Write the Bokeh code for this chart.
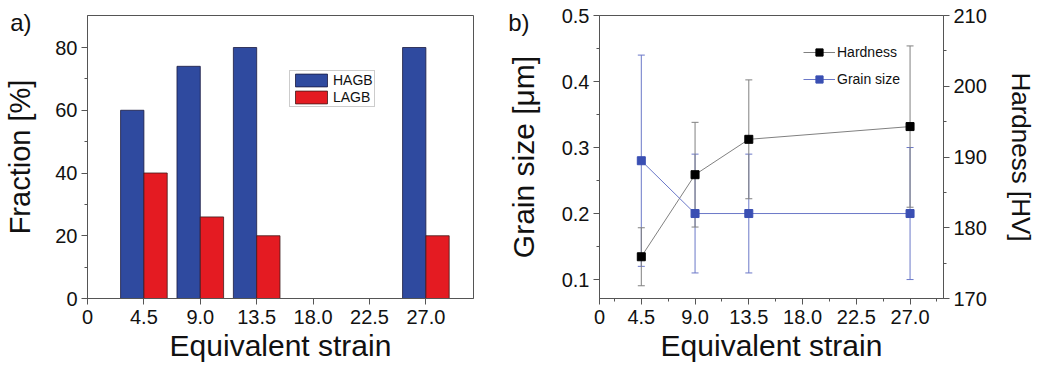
from bokeh.plotting import figure
from bokeh.models import (ColumnDataSource, FixedTicker, Range1d, LinearAxis, Legend,
                          LegendItem, Whisker, TeeHead)
from bokeh.layouts import row
from bokeh.transform import dodge
from bokeh.embed import file_html
from bokeh.resources import INLINE

# ---------------- data ----------------
strain = [4.5, 9.0, 13.5, 27.0]
hagb = [60, 74, 80, 80]
lagb = [40, 26, 20, 20]
hardness = [175.9, 187.5, 192.5, 194.3]
hardness_err = [4.1, 7.4, 8.4, 11.4]
grain = [0.28, 0.20, 0.20, 0.20]
grain_err = [0.16, 0.09, 0.09, 0.10]
x_ticks = [0, 4.5, 9.0, 13.5, 18.0, 22.5, 27.0]
x_tick_labels = ["0", "4.5", "9.0", "13.5", "18.0", "22.5", "27.0"]
frac_ticks = [0, 20, 40, 60, 80]
grain_ticks = [0.1, 0.2, 0.3, 0.4, 0.5]
hard_ticks = [170, 180, 190, 200, 210]
panel_labels = ["a)", "b)"]

FONT = "Liberation Sans"
AX = "#555555"
TXT = "#111111"
BLUE = "#2f4a9f"
RED = "#e41b22"


def style_axis(ax, tick_size="20px", label_size="30px"):
    ax.axis_line_color = AX
    ax.major_tick_line_color = AX
    ax.minor_tick_line_color = AX
    ax.major_tick_in = 0
    ax.major_tick_out = 6
    ax.minor_tick_in = 0
    ax.minor_tick_out = 3
    ax.major_label_text_font = FONT
    ax.major_label_text_font_size = tick_size
    ax.major_label_text_color = TXT
    ax.axis_label_text_font = FONT
    ax.axis_label_text_font_size = label_size
    ax.axis_label_text_font_style = "normal"
    ax.axis_label_text_color = TXT


def panel_tag(p, text, ypos, standoff, range_name="default"):
    # an extra, invisible left axis whose single tick label is the panel letter
    ax = LinearAxis(y_range_name=range_name, ticker=FixedTicker(ticks=[ypos], minor_ticks=[]))
    ax.major_label_overrides = {ypos: text}
    ax.axis_line_color = None
    ax.major_tick_line_color = None
    ax.minor_tick_line_color = None
    ax.major_tick_in = 0
    ax.major_tick_out = 0
    ax.minor_tick_in = 0
    ax.minor_tick_out = 0
    ax.major_label_standoff = standoff
    ax.major_label_text_font = FONT
    ax.major_label_text_font_size = "24px"
    ax.major_label_text_color = TXT
    p.add_layout(ax, "left")


# ---------------- panel a ----------------
src_a = ColumnDataSource(dict(x=strain, hagb=hagb, lagb=lagb))
p1 = figure(width=480, height=367, output_backend="svg", toolbar_location=None,
            x_range=Range1d(0, 30.8), y_range=Range1d(0, 90.2),
            min_border_left=87, min_border_right=7, min_border_top=15, min_border_bottom=69)
p1.xgrid.visible = False
p1.ygrid.visible = False
p1.outline_line_color = AX
p1.background_fill_color = "white"
p1.border_fill_color = "white"

bw = 1.86
p1.vbar(x=dodge("x", -bw / 2), top="hagb", width=bw, source=src_a, fill_color=BLUE,
        line_color="#1a1a40", line_width=0.8, legend_label="HAGB")
p1.vbar(x=dodge("x", bw / 2), top="lagb", width=bw, source=src_a, fill_color=RED,
        line_color="#401a1a", line_width=0.8, legend_label="LAGB")

p1.xaxis.ticker = FixedTicker(ticks=x_ticks)
p1.xaxis.major_label_overrides = {t: l for t, l in zip(x_ticks, x_tick_labels)}
p1.yaxis.ticker = FixedTicker(ticks=frac_ticks, minor_ticks=[10, 30, 50, 70])
p1.xaxis.axis_label = "Equivalent strain"
p1.yaxis.axis_label = "Fraction [%]"
style_axis(p1.xaxis[0])
style_axis(p1.yaxis[0], label_size="29px")
p1.xaxis.major_label_standoff = 5
p1.xaxis.axis_label_standoff = 2
p1.yaxis.major_label_standoff = 4
p1.yaxis.axis_label_standoff = 16

lg = p1.legend[0]
lg.location = (202, 191)
lg.border_line_color = "#999999"
lg.border_line_width = 1
lg.background_fill_color = "white"
lg.padding = 1
lg.spacing = 1
lg.margin = 0
lg.glyph_width = 40
lg.glyph_height = 16
lg.label_height = 16
lg.label_standoff = 2
lg.label_text_font = FONT
lg.label_text_font_size = "14px"
lg.label_text_color = TXT

panel_tag(p1, panel_labels[0], 88.0, -30)

# ---------------- panel b ----------------
hard_lo = [h - e for h, e in zip(hardness, hardness_err)]
hard_hi = [h + e for h, e in zip(hardness, hardness_err)]
grain_lo = [g - e for g, e in zip(grain, grain_err)]
grain_hi = [g + e for g, e in zip(grain, grain_err)]
src_b = ColumnDataSource(dict(x=strain, hard=hardness, hlo=hard_lo, hhi=hard_hi,
                              grain=grain, glo=grain_lo, ghi=grain_hi))

p2 = figure(width=558, height=367, output_backend="svg", toolbar_location=None,
            x_range=Range1d(1.0, 29.8), y_range=Range1d(0.0713, 0.5),
            min_border_left=119, min_border_right=88, min_border_top=15, min_border_bottom=68)
p2.extra_y_ranges = {"hard": Range1d(170.0, 210)}
p2.xgrid.visible = False
p2.ygrid.visible = False
p2.outline_line_color = AX
p2.background_fill_color = "white"
p2.border_fill_color = "white"

GRAY = "#808080"
GBLUE = "#6b78c8"
GMARK = "#3a4fb3"

wg = Whisker(base="x", lower="glo", upper="ghi", source=src_b, line_color=GBLUE, line_width=1,
             upper_head=TeeHead(size=7, line_color=GBLUE, line_width=1),
             lower_head=TeeHead(size=7, line_color=GBLUE, line_width=1))
wh = Whisker(base="x", lower="hlo", upper="hhi", source=src_b, line_color=GRAY, line_width=1,
             y_range_name="hard",
             upper_head=TeeHead(size=7, line_color=GRAY, line_width=1),
             lower_head=TeeHead(size=7, line_color=GRAY, line_width=1))
p2.add_layout(wg)
p2.add_layout(wh)

lh = p2.line("x", "hard", source=src_b, line_color=GRAY, line_width=1, y_range_name="hard")
mh = p2.scatter("x", "hard", source=src_b, marker="square", size=8, fill_color="black",
                line_color="black", y_range_name="hard")
lgr = p2.line("x", "grain", source=src_b, line_color=GBLUE, line_width=1)
mg = p2.scatter("x", "grain", source=src_b, marker="square", size=8, fill_color=GMARK,
                line_color=GMARK)

x2_ticks = [1.0] + x_ticks[1:]
p2.xaxis.ticker = FixedTicker(ticks=x2_ticks,
                              minor_ticks=[2.25, 6.75, 11.25, 15.75, 20.25, 24.75, 29.25])
p2.xaxis.major_label_overrides = {t: l for t, l in zip(x2_ticks, x_tick_labels)}
p2.yaxis.ticker = FixedTicker(ticks=grain_ticks, minor_ticks=[0.15, 0.25, 0.35, 0.45])
p2.xaxis.axis_label = "Equivalent strain"
p2.yaxis.axis_label = "Grain size [μm]"
style_axis(p2.xaxis[0])
style_axis(p2.yaxis[0], label_size="30px")
p2.xaxis.major_label_standoff = 5
p2.xaxis.axis_label_standoff = 2
p2.yaxis.major_label_standoff = 4
p2.yaxis.axis_label_standoff = 19

ax_r = LinearAxis(y_range_name="hard", axis_label="Hardness [HV]",
                  ticker=FixedTicker(ticks=hard_ticks, minor_ticks=[175, 185, 195, 205]))
style_axis(ax_r, label_size="26px")
ax_r.major_label_standoff = 4
ax_r.axis_label_standoff = 16
p2.add_layout(ax_r, "right")

leg2 = Legend(items=[LegendItem(label="Hardness", renderers=[lh, mh]),
                     LegendItem(label="Grain size", renderers=[lgr, mg])],
              location=(204, 210))
leg2.border_line_color = None
leg2.background_fill_alpha = 0
leg2.padding = 0
leg2.margin = 0
leg2.spacing = 9
leg2.glyph_width = 32
leg2.glyph_height = 18
leg2.label_height = 18
leg2.label_standoff = 2
leg2.label_text_font = FONT
leg2.label_text_font_size = "14px"
leg2.label_text_color = TXT
p2.add_layout(leg2)

panel_tag(p2, panel_labels[1], 0.489, -26)

layout = row(p1, p2)
open("out.html", "w").write(file_html(layout, INLINE))
